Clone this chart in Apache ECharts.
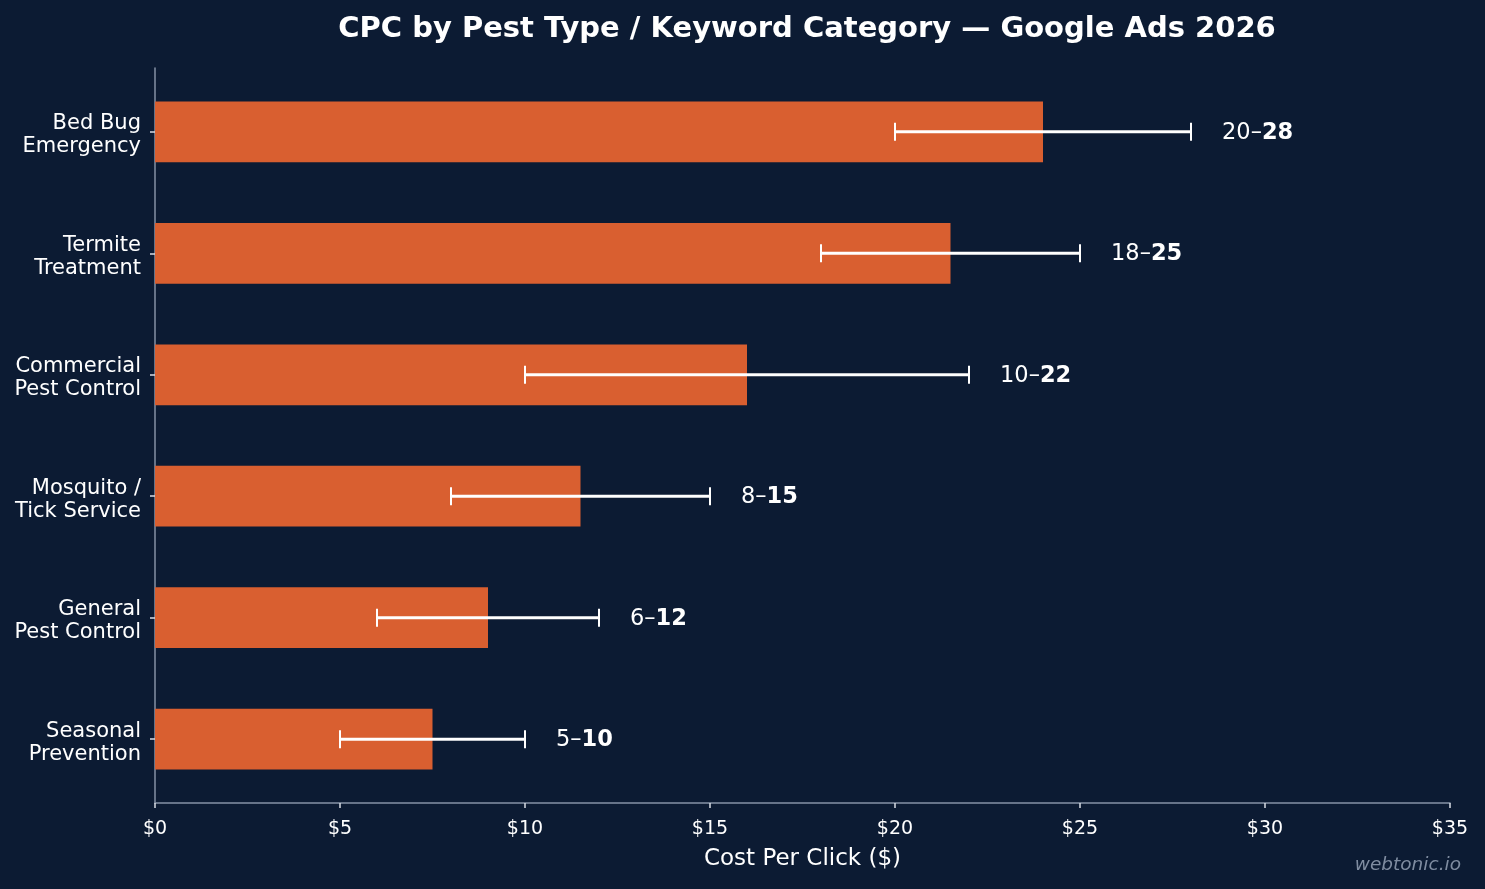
<!DOCTYPE html>
<html><head><meta charset="utf-8">
<script src="https://cdn.jsdelivr.net/npm/echarts@6/dist/echarts.min.js"></script>
<style>html,body{margin:0;padding:0;background:#0c1b33;}#c{width:1485px;height:889px;}</style>
</head><body><div id="c"></div>
<script>
const categories = ["Bed Bug\nEmergency","Termite\nTreatment","Commercial\nPest Control","Mosquito /\nTick Service","General\nPest Control","Seasonal\nPrevention"];
const cpcValues = [24, 21.5, 16, 11.5, 9, 7.5];
const rangeLow = [20, 18, 10, 8, 6, 5];
const rangeHigh = [28, 25, 22, 15, 12, 10];
const xTicks = [0,5,10,15,20,25,30,35];

const barData = cpcValues.map((v,i)=>[v,i]);
const errData = rangeLow.map((lo,i)=>[lo, rangeHigh[i], i]);
const catIdx = categories.map((c,i)=>i);
const FONT = 'DejaVu Sans';

const chart = echarts.init(document.getElementById('c'));
chart.setOption({
  backgroundColor:'#0c1b33',
  animation:false,
  title:{text:'CPC by Pest Type / Keyword Category — Google Ads 2026', left:802, top:10, textAlign:'center',
    textStyle:{color:'#ffffff', fontFamily:FONT, fontWeight:'bold', fontSize:29}},
  graphic:[{type:'text', right:24, top:856, style:{text:'webtonic.io', fill:'#7f8ca0', font:'italic 18.5px "DejaVu Sans"'}}],
  grid:{left:155, right:35, top:68, bottom:86},
  xAxis:{type:'value', min:0, max:35, interval:5,
    name:'Cost Per Click ($)', nameLocation:'middle', nameGap:45,
    nameTextStyle:{color:'#ffffff', fontFamily:FONT, fontSize:23},
    axisLine:{show:true, onZero:false, lineStyle:{color:'#8592a6', width:1.5}},
    axisTick:{show:true, length:5, lineStyle:{color:'#d8dde5', width:1.5}},
    axisLabel:{color:'#ffffff', fontFamily:FONT, fontSize:19, margin:17, formatter:v=>'$'+v},
    splitLine:{show:false}},
  yAxis:{type:'value', min:-0.525, max:5.525, inverse:true,
    axisLine:{show:true, onZero:false, lineStyle:{color:'#8592a6', width:1.5}},
    axisTick:{show:true, length:5, customValues:catIdx, lineStyle:{color:'#d8dde5', width:1.5}},
    axisLabel:{color:'#ffffff', fontFamily:FONT, fontSize:21, lineHeight:23, margin:14, align:'right',
      customValues:catIdx.map(i=>i+0.03), formatter:v=>categories[Math.round(v)]},
    splitLine:{show:false}},
  series:[
    {type:'custom', data:barData, encode:{x:0,y:1}, z:2,
      renderItem:(params, api)=>{
        const v=api.value(0), i=api.value(1);
        const p0=api.coord([0,i]), p1=api.coord([v,i]);
        const h=Math.abs(api.size([0,0.5])[1]);
        return {type:'rect', shape:{x:p0[0], y:p0[1]-h/2, width:p1[0]-p0[0], height:h}, style:{fill:'#d95f30'}};
      }},
    {type:'custom', data:errData, encode:{x:[0,1],y:2}, z:3,
      renderItem:(params, api)=>{
        const lo=api.value(0), hi=api.value(1), i=api.value(2);
        const a=api.coord([lo,i]), b=api.coord([hi,i]);
        const c=9;
        return {type:'group', children:[
          {type:'line', shape:{x1:a[0],y1:a[1],x2:b[0],y2:b[1]}, style:{stroke:'#ffffff', lineWidth:3}},
          {type:'line', shape:{x1:a[0],y1:a[1]-c,x2:a[0],y2:a[1]+c}, style:{stroke:'#ffffff', lineWidth:2}},
          {type:'line', shape:{x1:b[0],y1:b[1]-c,x2:b[0],y2:b[1]+c}, style:{stroke:'#ffffff', lineWidth:2}},
          {type:'text', x:b[0]+31, y:b[1]+1, style:{
            text:'{a|'+lo+'–}{b|'+hi+'}', verticalAlign:'middle', align:'left',
            rich:{a:{fill:'#ffffff', fontFamily:FONT, fontSize:22.5},
                  b:{fill:'#ffffff', fontFamily:FONT, fontSize:22.5, fontWeight:'bold'}}}}
        ]};
      }}
  ]
});
</script></body></html>
